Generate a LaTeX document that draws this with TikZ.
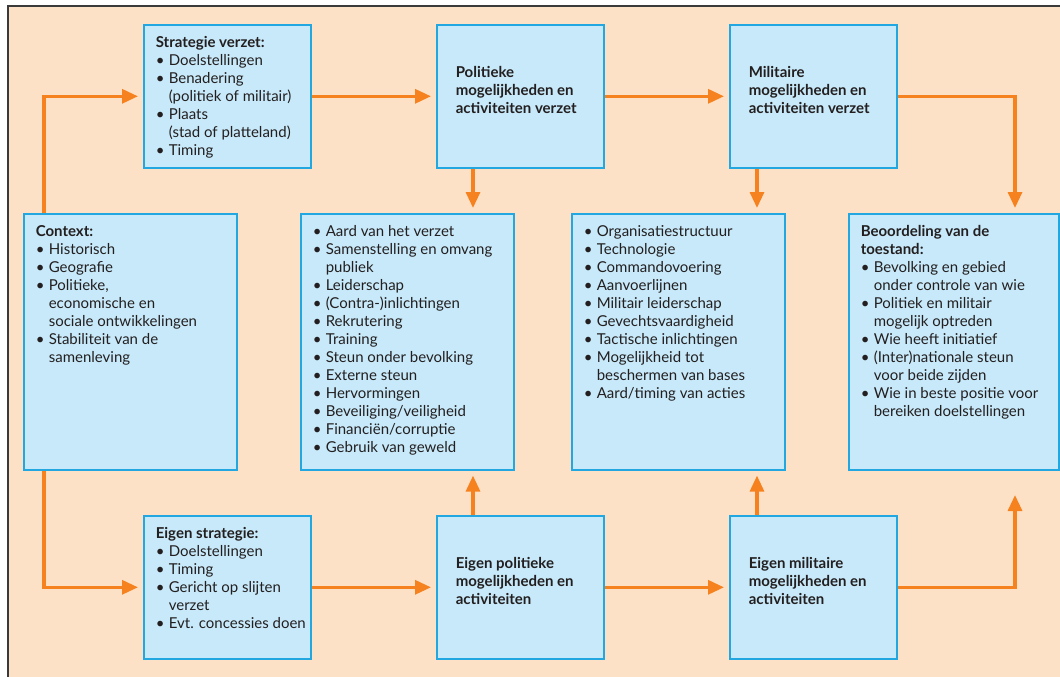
\documentclass[tikz,border=0pt]{standalone}
\usepackage{fontspec}
\setmainfont{Lato}
\usetikzlibrary{arrows.meta}
\definecolor{bgpeach}{HTML}{FDE1C6}
\definecolor{boxfill}{HTML}{C7E9F9}
\definecolor{boxline}{HTML}{22A7E0}
\definecolor{arrorange}{HTML}{F5821F}
\definecolor{txtcol}{HTML}{231F20}
\definecolor{framecol}{HTML}{3A3A3A}
\newcommand{\itm}[1]{\par\hangindent=13pt\hangafter=1\noindent\makebox[13pt][l]{\textbullet}#1}
\newcommand{\ttl}[1]{\par\noindent\textbf{#1}}
\newcommand{\topbox}[3]{\parbox[c][#2pt][t]{#1pt}{\vspace*{12pt}\hspace*{12pt}\begin{minipage}[t]{\dimexpr#1pt-14pt\relax}\raggedright #3\end{minipage}}}
\newcommand{\midbox}[3]{\parbox[c][#2pt][c]{#1pt}{\hspace*{19pt}\begin{minipage}{\dimexpr#1pt-21pt\relax}\raggedright\bfseries #3\end{minipage}\par\vspace*{12pt}}}
\begin{document}
\begin{tikzpicture}[x=1pt,y=-1pt,
  every node/.style={font=\fontsize{15}{18}\selectfont, text=txtcol},
  box/.style={draw=boxline, fill=boxfill, line width=1.6pt, inner sep=0pt, anchor=north west},
  arr/.style={draw=arrorange, line width=3.2pt, shorten >=5pt, -{Triangle[length=16pt,width=14pt]}}]
\useasboundingbox (0,0) rectangle (1060,677);
\clip (0,0) rectangle (1060,677);
\fill[bgpeach] (8,6) rectangle (1080,690);
\draw[framecol, line width=1.5pt] (8,6) rectangle (1080,690);
% top row
\node[box] (sv) at (143,24) {\topbox{167}{143}{\ttl{Strategie verzet:}\itm{Doelstellingen}\itm{Benadering\newline (politiek of militair)}\itm{Plaats\newline (stad of platteland)}\itm{Timing}}};
\node[box] (pol) at (436,24) {\midbox{167}{143}{Politieke\newline mogelijkheden en\newline activiteiten verzet}};
\node[box] (mil) at (729,24) {\midbox{167}{143}{Militaire\newline mogelijkheden en\newline activiteiten verzet}};
% middle row
\node[box] (ctx) at (23,213) {\topbox{213}{256}{\ttl{Context:}\itm{Historisch}\itm{Geografie}\itm{Politieke,\newline economische en\newline sociale ontwikkelingen}\itm{Stabiliteit van de\newline samenleving}}};
\node[box] (l1) at (300,213) {\topbox{213}{256}{\itm{Aard van het verzet}\itm{Samenstelling en omvang\newline publiek}\itm{Leiderschap}\itm{(Contra-)inlichtingen}\itm{Rekrutering}\itm{Training}\itm{Steun onder bevolking}\itm{Externe steun}\itm{Hervormingen}\itm{Beveiliging/veiligheid}\itm{Financiën/corruptie}\itm{Gebruik van geweld}}};
\node[box] (l2) at (571,213) {\topbox{213}{256}{\itm{Organisatiestructuur}\itm{Technologie}\itm{Commandovoering}\itm{Aanvoerlijnen}\itm{Militair leiderschap}\itm{Gevechtsvaardigheid}\itm{Tactische inlichtingen}\itm{Mogelijkheid tot\newline beschermen van bases}\itm{Aard/timing van acties}}};
\node[box] (beo) at (848,213) {\topbox{210}{256}{\ttl{Beoordeling van de\newline toestand:}\itm{Bevolking en gebied\newline onder controle van wie}\itm{Politiek en militair\newline mogelijk optreden}\itm{Wie heeft initiatief}\itm{(Inter)nationale steun\newline voor beide zijden}\itm{Wie in beste positie voor\newline bereiken doelstellingen}}};
% bottom row
\node[box] (es) at (143,515) {\topbox{167}{143}{\ttl{Eigen strategie:}\itm{Doelstellingen}\itm{Timing}\itm{Gericht op slijten\newline verzet}\itm{Evt. concessies doen}}};
\node[box] (ep) at (436,515) {\midbox{167}{143}{Eigen politieke\newline mogelijkheden en\newline activiteiten}};
\node[box] (em) at (729,515) {\midbox{167}{143}{Eigen militaire\newline mogelijkheden en\newline activiteiten}};
% helper coordinates
\coordinate (c1) at (44,0);
\coordinate (c2) at (1015,0);
\coordinate (c3) at (473,0);
\coordinate (c4) at (757,0);
\coordinate (c5) at (1015,490);
% connectors
\draw[arr] (ctx.north -| c1) |- (sv.west);
\draw[arr] (ctx.south -| c1) |- (es.west);
\draw[arr] (sv) -- (pol);
\draw[arr] (pol) -- (mil);
\draw[arr] (mil.east) -| (beo.north -| c2);
\draw[arr] (pol.south -| c3) -- (l1.north -| c3);
\draw[arr] (mil.south -| c4) -- (l2.north -| c4);
\draw[arr] (es) -- (ep);
\draw[arr] (ep) -- (em);
\draw[arr] (ep.north -| c3) -- (l1.south -| c3);
\draw[arr] (em.north -| c4) -- (l2.south -| c4);
\draw[arr] (em.east) -| (c5);
\end{tikzpicture}
\end{document}
